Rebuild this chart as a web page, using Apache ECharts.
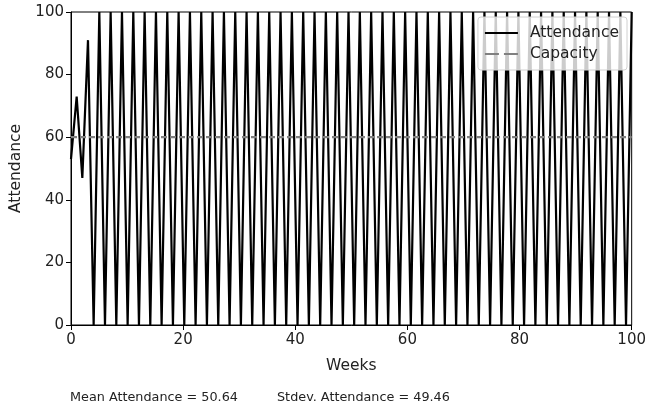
<!DOCTYPE html>
<html>
<head>
<meta charset="utf-8">
<script src="https://cdn.jsdelivr.net/npm/echarts@6/dist/echarts.min.js"></script>
<style>
  html, body { margin: 0; padding: 0; background: #fff; }
  #chart { width: 649px; height: 412px; }
</style>
</head>
<body>
<div id="chart"></div>
<script>
// weekly attendance, 100 samples spread evenly from week 0 to week 100
var attendance = [
  53, 73, 47, 91,
  0, 100, 0, 100, 0, 100, 0, 100, 0, 100, 0, 100, 0, 100, 0, 100,
  0, 100, 0, 100, 0, 100, 0, 100, 0, 100, 0, 100, 0, 100, 0, 100,
  0, 100, 0, 100, 0, 100, 0, 100, 0, 100, 0, 100, 0, 100, 0, 100,
  0, 100, 0, 100, 0, 100, 0, 100, 0, 100, 0, 100, 0, 100, 0, 100,
  0, 100, 0, 100, 0, 100, 0, 100, 0, 100, 0, 100, 0, 100, 0, 100,
  0, 100, 0, 100, 0, 100, 0, 100, 0, 100, 0, 100, 0, 100, 0, 100
]
// sample grid (like linspace(0, 100, 100))
var weeks = attendance.map(function (v, i) { return i * 100 / (attendance.length - 1) })
var capacityWeeks = [0, 100]
var capacityValues = [60, 60]
var statsText = ['Mean Attendance = 50.64', 'Stdev. Attendance = 49.46']

var font = 'DejaVu Sans'
var fs = 15
var chart = echarts.init(document.getElementById('chart'), null, { renderer: 'canvas' })

chart.setOption({
  animation: false,
  textStyle: { fontFamily: font },
  grid: {
    left: 70,
    right: 17,
    top: 12,
    bottom: 87,
    show: true,
    borderColor: '#000',
    borderWidth: 1,
    backgroundColor: 'transparent'
  },
  legend: {
    show: true,
    right: 22,
    top: 17,
    orient: 'vertical',
    backgroundColor: 'rgba(255,255,255,0.8)',
    borderColor: '#d0d0d0',
    borderWidth: 1,
    borderRadius: 3,
    padding: [8, 8, 8, 7],
    itemGap: 5,
    itemWidth: 33,
    itemHeight: 2,
    textStyle: { fontFamily: font, fontSize: 15.5, color: '#222', padding: [0, 0, 0, 7] },
    data: [
      { name: 'Attendance', icon: 'path://M0,0H33V2H0Z' },
      { name: 'Capacity', icon: 'path://M0,0H14V2H0ZM19,0H33V2H19Z' }
    ]
  },
  xAxis: {
    type: 'value',
    min: 0,
    max: 100,
    interval: 20,
    name: 'Weeks',
    nameLocation: 'middle',
    nameGap: 33,
    nameTextStyle: { fontFamily: font, fontSize: 15.5, color: '#222' },
    axisLine: { show: true, lineStyle: { color: '#000', width: 1 } },
    axisTick: { show: true, length: 5, lineStyle: { color: '#000' } },
    axisLabel: { fontFamily: font, fontSize: fs, color: '#222', margin: 8 },
    splitLine: { show: false }
  },
  yAxis: {
    type: 'value',
    min: 0,
    max: 100,
    interval: 20,
    name: 'Attendance',
    nameLocation: 'middle',
    nameGap: 47,
    nameRotate: 90,
    nameTextStyle: { fontFamily: font, fontSize: 15.5, color: '#222' },
    axisLine: { show: true, lineStyle: { color: '#000', width: 1 } },
    axisTick: { show: true, length: 5, lineStyle: { color: '#000' } },
    axisLabel: { fontFamily: font, fontSize: fs, color: '#222', margin: 7 },
    splitLine: { show: false }
  },
  series: [
    {
      name: 'Attendance',
      type: 'line',
      showSymbol: false,
      symbol: 'none',
      lineStyle: { color: '#000', width: 2.2, join: 'miter' },
      itemStyle: { color: '#000' },
      data: weeks.map(function (w, i) { return [w, attendance[i]] }),
      z: 2
    },
    {
      name: 'Capacity',
      type: 'line',
      showSymbol: false,
      symbol: 'none',
      lineStyle: { color: '#808080', width: 2.2, type: [6, 3] },
      itemStyle: { color: '#808080' },
      data: capacityWeeks.map(function (w, i) { return [w, capacityValues[i]] }),
      z: 3
    }
  ],
  graphic: [
    {
      type: 'text',
      left: 70,
      top: 391,
      style: { text: statsText[0], font: '12.8px "DejaVu Sans"', fill: '#222' }
    },
    {
      type: 'text',
      left: 277,
      top: 391,
      style: { text: statsText[1], font: '12.8px "DejaVu Sans"', fill: '#222' }
    }
  ]
})
</script>
</body>
</html>
